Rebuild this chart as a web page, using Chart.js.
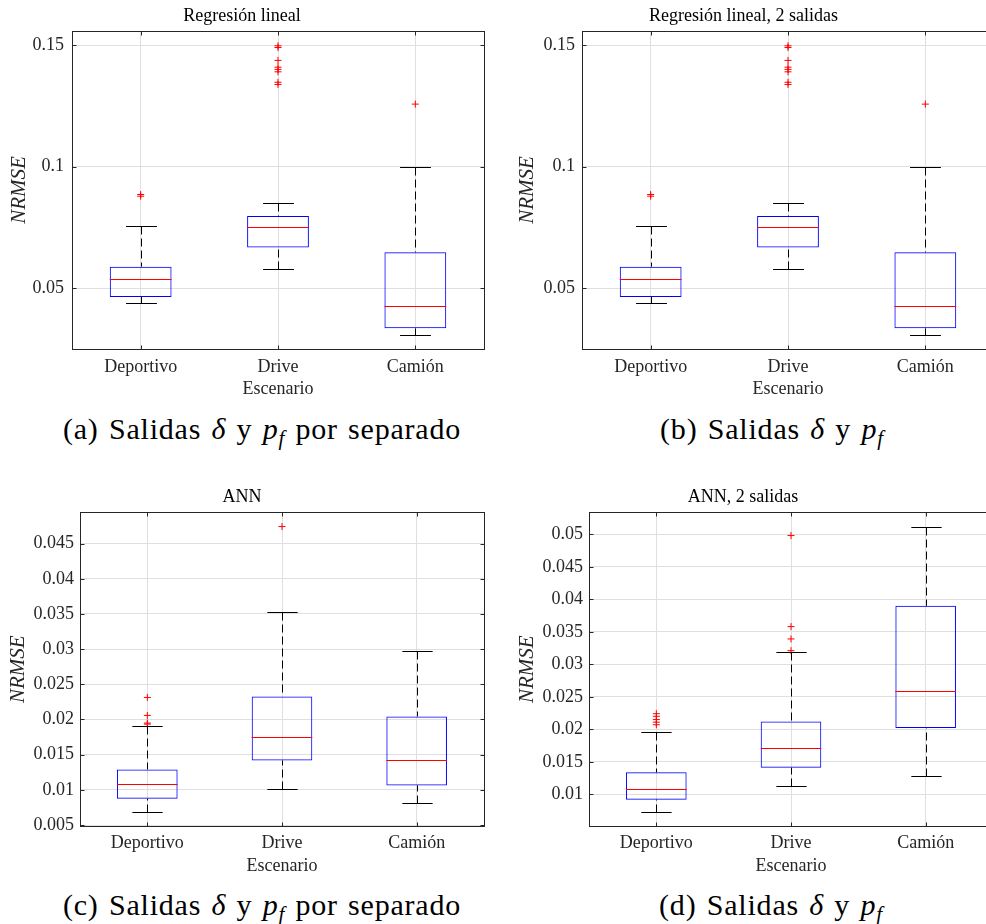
<!DOCTYPE html>
<html>
<head>
<meta charset="utf-8">
<script src="https://cdn.jsdelivr.net/npm/chart.js@4.4.0/dist/chart.umd.min.js"></script>
<style>
  html, body { margin: 0; padding: 0; background: #fff; overflow: hidden; }
  body { width: 986px; height: 924px; position: relative; }
  canvas { position: absolute; }
  .caption {
    position: absolute; white-space: nowrap; transform: translateX(-50%);
    font-family: 'Liberation Serif', serif; font-size: 30px; line-height: 36px;
    letter-spacing: 0.8px; word-spacing: 2px; color: #000;
  }
  .caption sub { font-size: 0.7em; line-height: 0; vertical-align: -0.3em; }
</style>
</head>
<body>
<canvas id="chartA" width="493" height="400" style="left:0;top:0"></canvas>
<canvas id="chartB" width="520" height="400" style="left:493px;top:0"></canvas>
<canvas id="chartC" width="493" height="400" style="left:0;top:481px"></canvas>
<canvas id="chartD" width="520" height="400" style="left:493px;top:481px"></canvas>

<div class="caption" style="left:262px;top:411px">(a) Salidas <i>δ</i> y <i>p<sub>f</sub></i> por separado</div>
<div class="caption" style="left:772px;top:411px">(b) Salidas <i>δ</i> y <i>p<sub>f</sub></i></div>
<div class="caption" style="left:262px;top:887px">(c) Salidas <i>δ</i> y <i>p<sub>f</sub></i> por separado</div>
<div class="caption" style="left:771px;top:887px">(d) Salidas <i>δ</i> y <i>p<sub>f</sub></i></div>

<script>
// -------------------- Data --------------------
const scenarios = ['Deportivo', 'Drive', 'Camión'];

// Regresión lineal (a) y Regresión lineal, 2 salidas (b): mismos valores
const rlLow    = [0.0438, 0.0577, 0.0308];
const rlQ1     = [0.0463, 0.0667, 0.0334];
const rlMedian = [0.0536, 0.0752, 0.0425];
const rlQ3     = [0.0588, 0.0796, 0.0647];
const rlHigh   = [0.0754, 0.0851, 0.1000];
const rlOutliers = [
  [0.0885, 0.0878],
  [0.1497, 0.1490, 0.1437, 0.1409, 0.1400, 0.1390, 0.1347, 0.1338],
  [0.1257]
];

// ANN (c)
const annLow    = [0.00689, 0.01007, 0.00817];
const annQ1     = [0.00874, 0.01418, 0.01063];
const annMedian = [0.01078, 0.01745, 0.01428];
const annQ3     = [0.01290, 0.02327, 0.02043];
const annHigh   = [0.01906, 0.03534, 0.02971];
const annOutliers = [
  [0.02313, 0.02058, 0.01949, 0.01934],
  [0.04742],
  []
];

// ANN, 2 salidas (d)
const ann2Low    = [0.00734, 0.01128, 0.01277];
const ann2Q1     = [0.00918, 0.01410, 0.02019];
const ann2Median = [0.01082, 0.01712, 0.02588];
const ann2Q3     = [0.01338, 0.02122, 0.03899];
const ann2High   = [0.01963, 0.03187, 0.05118];
const ann2Outliers = [
  [0.0224, 0.0220, 0.0215, 0.0211, 0.0207],
  [0.0498, 0.0358, 0.0339, 0.0321],
  []
];

// -------------------- Look --------------------
const FONT = "'Liberation Serif', serif";
const AXIS_COLOR = '#262626';
const GRID_COLOR = '#dfdfdf';
Chart.defaults.font.family = FONT;
Chart.defaults.color = AXIS_COLOR;

// whiskers, caps, medians and the MATLAB-style axes box with inward ticks
const boxPlotPlugin = {
  id: 'boxPlot',
  afterDatasetsDraw(chart) {
    const { ctx, chartArea: a, scales: { x, y } } = chart;
    const st = chart.data.datasets[0].stats;
    const bars = chart.getDatasetMeta(0).data;
    const px = v => Math.round(v) + 0.5;
    const seg = (x1, y1, x2, y2) => {
      ctx.beginPath(); ctx.moveTo(x1, y1); ctx.lineTo(x2, y2); ctx.stroke();
    };
    ctx.save();
    ctx.lineWidth = 1;
    bars.forEach((bar, i) => {
      const cx = px(bar.x);
      const half = bar.width / 2;
      const yHi = px(y.getPixelForValue(st.high[i]));
      const yLo = px(y.getPixelForValue(st.low[i]));
      ctx.strokeStyle = '#000';
      ctx.setLineDash([8, 4]);
      seg(cx, yHi, cx, y.getPixelForValue(st.q3[i]));
      seg(cx, yLo, cx, y.getPixelForValue(st.q1[i]));
      ctx.setLineDash([]);
      seg(cx - half / 2, yHi, cx + half / 2, yHi);
      seg(cx - half / 2, yLo, cx + half / 2, yLo);
      const yMed = px(y.getPixelForValue(st.median[i]));
      ctx.strokeStyle = '#ff0000';
      seg(bar.x - half, yMed, bar.x + half, yMed);
    });

    ctx.strokeStyle = AXIS_COLOR;
    const l = px(a.left), r = px(a.right), t = px(a.top), b = px(a.bottom);
    ctx.strokeRect(l, t, r - l, b - t);
    y.ticks.forEach((tk, i) => {
      const yy = px(y.getPixelForTick(i));
      seg(l, yy, l + 4, yy);
      seg(r - 4, yy, r, yy);
    });
    x.ticks.forEach((tk, i) => {
      const xx = px(x.getPixelForTick(i));
      seg(xx, b, xx, b - 4);
      seg(xx, t, xx, t + 4);
    });
    ctx.restore();
  }
};

function outlierPoints(groups) {
  return groups.flatMap((vals, i) => vals.map(v => ({ x: scenarios[i], y: v })));
}

function makePanel(id, p) {
  return new Chart(document.getElementById(id), {
    type: 'bar',
    data: {
      labels: scenarios,
      datasets: [
        {
          data: p.q1.map((q, i) => [q, p.q3[i]]),
          stats: { low: p.low, q1: p.q1, median: p.median, q3: p.q3, high: p.high },
          backgroundColor: 'rgba(0,0,0,0)',
          borderColor: '#0000ff',
          borderWidth: 1,
          borderSkipped: false,
          barPercentage: 0.45,
          categoryPercentage: 1.0
        },
        {
          type: 'scatter',
          data: outlierPoints(p.outliers),
          pointStyle: 'cross',
          radius: 3.5,
          borderColor: '#ff0000',
          borderWidth: 1
        }
      ]
    },
    options: {
      responsive: false,
      animation: false,
      events: [],
      layout: { padding: { right: p.padRight } },
      plugins: {
        legend: { display: false },
        tooltip: { enabled: false },
        title: {
          display: true,
          text: p.title,
          color: '#000',
          font: { size: 18, weight: 'normal' },
          padding: { top: p.titleTop, bottom: p.titleBottom }
        }
      },
      scales: {
        x: {
          type: 'category',
          offset: true,
          grid: { offset: false, color: GRID_COLOR, drawTicks: false },
          border: { display: false },
          ticks: { font: { size: 18 }, padding: p.xTickPad, maxRotation: 0 },
          title: { display: true, text: 'Escenario', font: { size: 18 }, padding: { top: 0, bottom: p.xTitlePad } },
          afterFit: s => { s.height = p.xAxisHeight; }
        },
        y: {
          type: 'linear',
          min: p.yMin,
          max: p.yMax,
          grid: { color: GRID_COLOR, drawTicks: false },
          border: { display: false },
          ticks: {
            stepSize: p.yStep,
            includeBounds: false,
            font: { size: 18 },
            padding: p.yTickPad,
            callback: v => String(+v.toFixed(4))
          },
          title: { display: true, text: 'NRMSE', font: { size: 21, style: 'italic' }, padding: { top: p.yTitlePad, bottom: 0 } },
          afterFit: s => { s.width = p.yAxisWidth; }
        }
      }
    },
    plugins: [boxPlotPlugin]
  });
}

// -------------------- Panels --------------------
makePanel('chartA', {
  title: 'Regresión lineal',
  low: rlLow, q1: rlQ1, median: rlMedian, q3: rlQ3, high: rlHigh, outliers: rlOutliers,
  yMin: 0.0249, yMax: 0.1558, yStep: 0.05,
  yAxisWidth: 72, yTickPad: 8, yTitlePad: 7,
  xAxisHeight: 51, xTickPad: 7.5, xTitlePad: -0.5,
  titleTop: 5, titleBottom: 4.4, padRight: 9
});

makePanel('chartB', {
  title: 'Regresión lineal, 2 salidas',
  low: rlLow, q1: rlQ1, median: rlMedian, q3: rlQ3, high: rlHigh, outliers: rlOutliers,
  yMin: 0.0249, yMax: 0.1558, yStep: 0.05,
  yAxisWidth: 89, yTickPad: 7, yTitlePad: 22,
  xAxisHeight: 51, xTickPad: 7.5, xTitlePad: -0.5,
  titleTop: 5, titleBottom: 4.4, padRight: 19
});

makePanel('chartC', {
  title: 'ANN',
  low: annLow, q1: annQ1, median: annMedian, q3: annQ3, high: annHigh, outliers: annOutliers,
  yMin: 0.00486, yMax: 0.04945, yStep: 0.005,
  yAxisWidth: 80, yTickPad: 6, yTitlePad: 6,
  xAxisHeight: 55, xTickPad: 6, xTitlePad: 4,
  titleTop: 5.4, titleBottom: 4.3, padRight: 9
});

makePanel('chartD', {
  title: 'ANN, 2 salidas',
  low: ann2Low, q1: ann2Q1, median: ann2Median, q3: ann2Q3, high: ann2High, outliers: ann2Outliers,
  yMin: 0.00513, yMax: 0.05338, yStep: 0.005,
  yAxisWidth: 96, yTickPad: 6, yTitlePad: 22,
  xAxisHeight: 55, xTickPad: 6, xTitlePad: 4,
  titleTop: 5.4, titleBottom: 4.3, padRight: 20
});
</script>
</body>
</html>
